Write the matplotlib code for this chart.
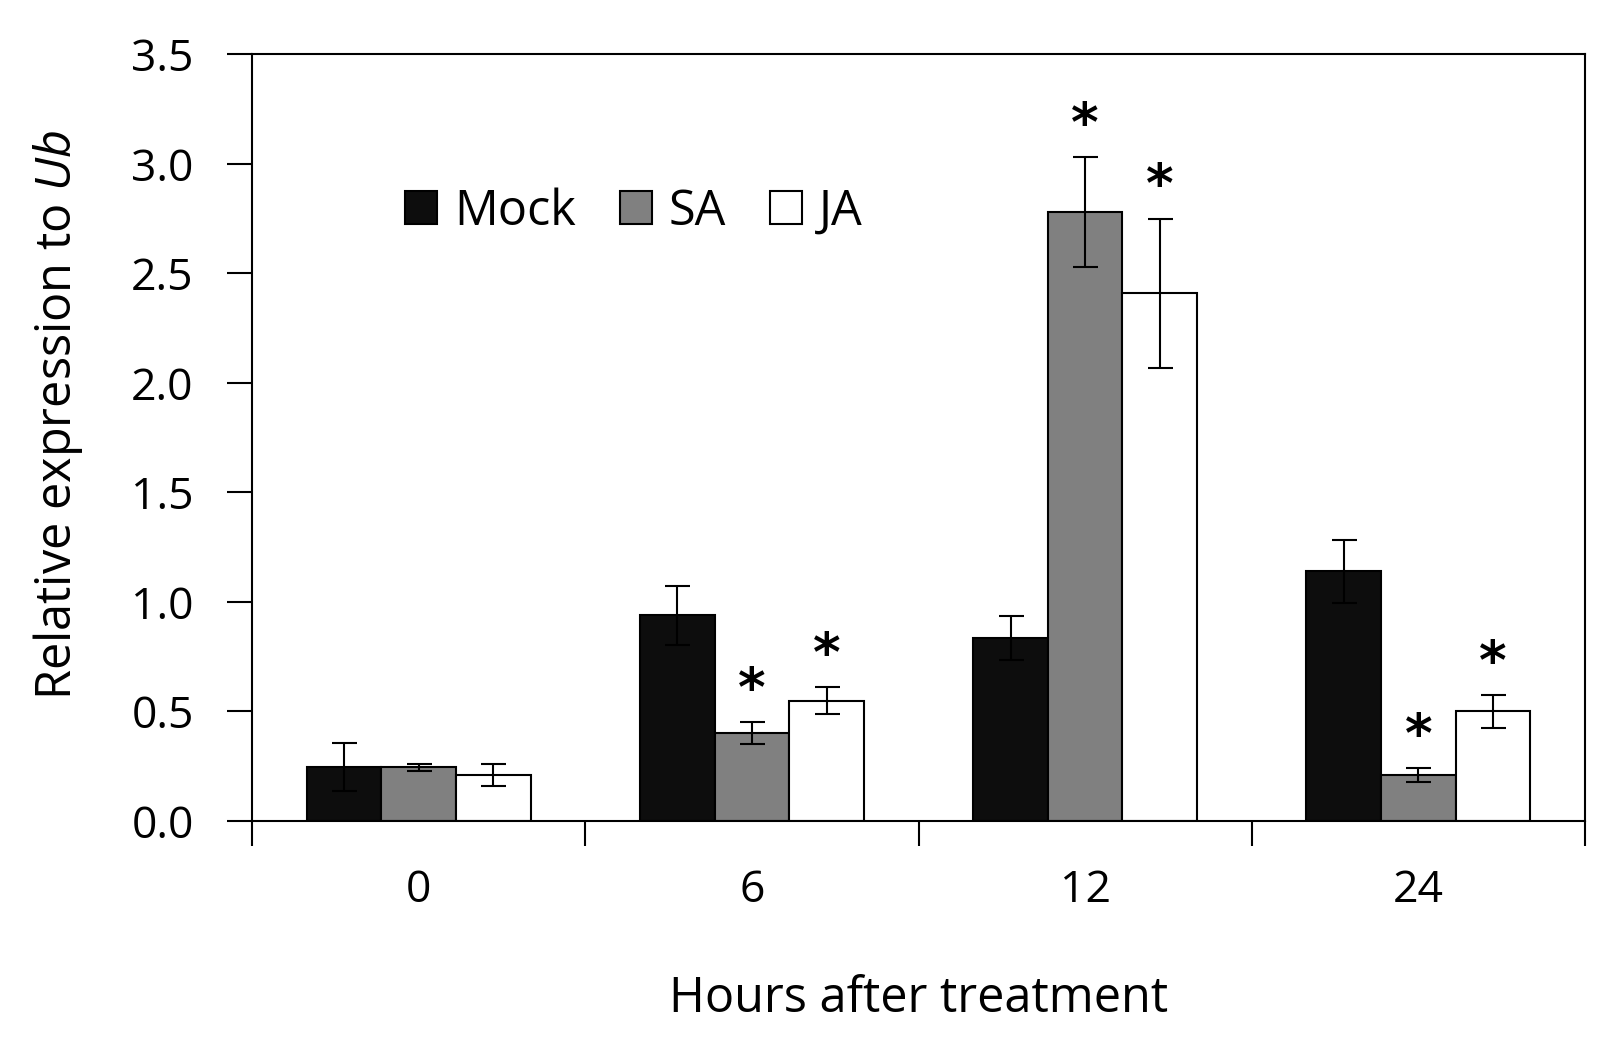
import matplotlib
matplotlib.use("Agg")
import matplotlib.pyplot as plt
import numpy as np

plt.rcParams["font.family"] = ["Open Sans", "DejaVu Sans"]
plt.rcParams["mathtext.fontset"] = "custom"
plt.rcParams["mathtext.it"] = "Open Sans:italic"
plt.rcParams["mathtext.rm"] = "Open Sans"

# ── Data ──
hours = ["0", "6", "12", "24"]
series = ["Mock", "SA", "JA"]
mock = [0.245, 0.94, 0.835, 1.14]
sa = [0.245, 0.40, 2.78, 0.21]
ja = [0.21, 0.55, 2.41, 0.50]
mock_err = [0.11, 0.135, 0.10, 0.145]
sa_err = [0.015, 0.05, 0.25, 0.03]
ja_err = [0.05, 0.06, 0.34, 0.075]
sa_sig = [False, True, True, True]
ja_sig = [False, True, True, True]
mock_sig = [False, False, False, False]

colors = ["#0d0d0d", "#808080", "#ffffff"]

fig = plt.figure(figsize=(16.22, 10.47), dpi=100)
ax = fig.add_axes([0.1554, 0.2159, 0.8218, 0.7321])

x = np.arange(len(hours))
w = 0.224
vals = [mock, sa, ja]
errs = [mock_err, sa_err, ja_err]
sigs = [mock_sig, sa_sig, ja_sig]

for i, (name, v, e, s, c) in enumerate(zip(series, vals, errs, sigs, colors)):
    xi = x + (i - 1) * w
    ax.bar(xi, v, w, color=c, edgecolor="black", linewidth=1.5, label=name, zorder=2)
    ax.errorbar(xi, v, yerr=e, fmt="none", ecolor="black", elinewidth=1.5,
                capsize=9, capthick=1.5, zorder=3)
    for xx, vv, ee, ss in zip(xi, v, e, s):
        if ss:
            ax.text(xx, vv + ee + 0.025, "*", ha="center", va="bottom",
                    fontsize=38, fontweight="bold", family="DejaVu Sans")

ax.set_xlim(-0.5, len(hours) - 0.5)
ax.set_ylim(0, 3.5)
ax.set_yticks(np.arange(0, 3.51, 0.5))
ax.set_yticklabels([f"{t:.1f}" for t in np.arange(0, 3.51, 0.5)])
ax.set_xticks(x)
ax.set_xticklabels(hours)
ax.set_xticks(np.arange(-0.5, len(hours), 1.0), minor=True)
ax.tick_params(axis="x", which="major", length=0, pad=34, labelsize=32)
ax.tick_params(axis="x", which="minor", length=18, width=1.5, direction="out")
ax.tick_params(axis="y", length=18, width=1.5, direction="out", labelsize=32, pad=24)
for sp in ax.spines.values():
    sp.set_linewidth(1.5)

ax.set_xlabel("Hours after treatment", fontsize=35)
ax.xaxis.set_label_coords(0.5, -0.2)
ax.set_ylabel(r"Relative expression to $\mathit{Ub}$", fontsize=35)
ax.yaxis.set_label_coords(-0.125, 0.53)

ax.legend(loc="upper left", bbox_to_anchor=(0.1, 0.852), ncol=3, frameon=False,
          fontsize=35, handlelength=0.66, handleheight=0.66, handletextpad=0.35,
          columnspacing=0.9, borderaxespad=0)

fig.savefig("out.png", dpi=100, facecolor="white")
